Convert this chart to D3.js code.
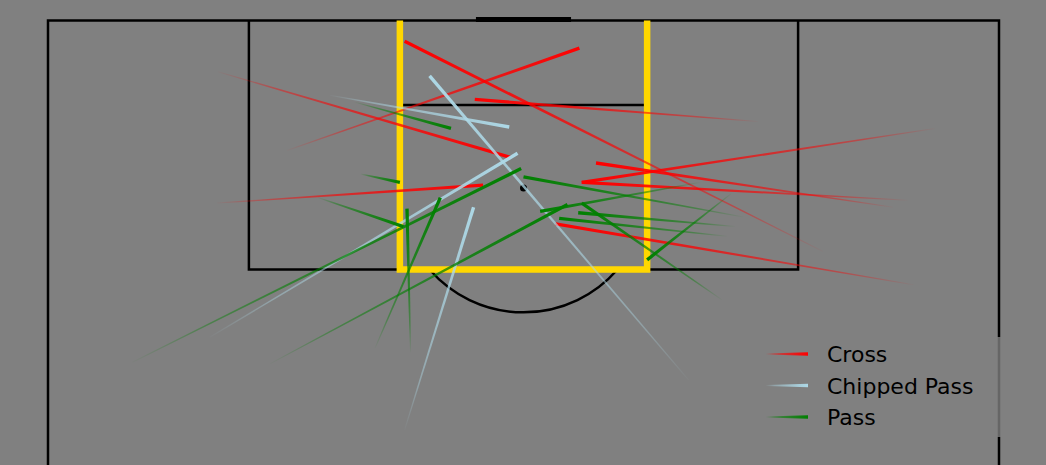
<!DOCTYPE html>
<html>
<head>
<meta charset="utf-8">
<script src="https://cdn.jsdelivr.net/npm/d3@7"></script>
<style>
  html, body { margin: 0; padding: 0; background: #808080; }
  #chart { width: 1046px; height: 465px; }
</style>
</head>
<body>
<div id="chart"></div>
<script>
// pass types, in plotting / legend order
var passTypes = ["Cross", "Chipped Pass", "Pass"];

// each pass: [x, y, endX, endY] in statsbomb-like units (x = length 0..120, y = width 0..80)
var crosses = [
  [116.3, 14.3, 110.1, 38.9],
  [110.6, 20.1, 118.0, 44.7],
  [103.3, 65.2, 118.5, 30.0],
  [112.7, 59.7, 114.3, 35.9],
  [112.2, 74.6, 108.3, 44.9],
  [107.0, 72.3, 108.3, 44.9],
  [106.5, 71.1, 109.7, 46.1],
  [100.9, 72.8, 105.3, 42.7],
  [106.8, 14.2, 108.1, 36.6]
];

var chippedPasses = [
  [114.6, 23.7, 112.3, 38.8],
  [94.0, 53.9, 116.0, 32.1],
  [97.1, 13.6, 110.4, 39.5],
  [90.4, 30.0, 106.5, 35.8]
];

var passes = [
  [114.1, 25.8, 112.2, 33.9],
  [108.9, 26.3, 108.3, 29.6],
  [107.2, 22.7, 105.1, 29.9],
  [95.3, 7.1, 109.3, 39.8],
  [96.0, 30.5, 106.4, 30.2],
  [96.3, 27.5, 107.2, 33.0],
  [95.2, 18.7, 106.7, 43.7],
  [105.8, 58.5, 108.7, 40.0],
  [99.8, 56.7, 106.8, 44.9],
  [107.5, 57.5, 102.7, 50.4],
  [105.1, 57.8, 106.1, 44.6],
  [104.4, 57.1, 105.7, 43.0],
  [108.3, 54.9, 106.2, 41.4]
];

var typeColors = ["#ff0000", "#add8e6", "#008000"];

var width = 1046, height = 465;

var svg = d3.select("#chart").append("svg")
    .attr("width", width)
    .attr("height", height);

// pitch scales: width across the screen, length down from the goal line
var sx = d3.scaleLinear().domain([0, 80]).range([48, 999]);
var sy = d3.scaleLinear().domain([120, 102]).range([20.5, 269.5]);

var defs = svg.append("defs");

// pitch markings
var pitch = svg.append("g")
    .attr("fill", "none")
    .attr("stroke", "#000")
    .attr("stroke-width", 2.5);

// touchlines + goal line
pitch.append("path")
    .attr("d", d3.line()([[sx(0), height + 5], [sx(0), sy(120)], [sx(80), sy(120)], [sx(80), height + 5]]));

// penalty area
pitch.append("path")
    .attr("d", d3.line()([[sx(16.9), sy(120)], [sx(16.9), sy(102)], [sx(63.1), sy(102)], [sx(63.1), sy(120)]]));

// six yard box
pitch.append("path")
    .attr("d", d3.line()([[sx(29.6), sy(120)], [sx(29.6), sy(113.9)], [sx(50.4), sy(113.9)], [sx(50.4), sy(120)]]));

// arc outside the box
var spot = [sx(40), sy(107.9)];
var r = sx(10.47) - sx(0);
var dy = sy(102) - spot[1];
var a = Math.acos(dy / r);
pitch.append("path")
    .attr("transform", "translate(" + spot[0] + "," + spot[1] + ")")
    .attr("d", d3.arc()({innerRadius: r, outerRadius: r, startAngle: Math.PI - a, endAngle: Math.PI + a}));

// goal
pitch.append("line")
    .attr("x1", sx(36)).attr("x2", sx(44))
    .attr("y1", sy(120) - 1).attr("y2", sy(120) - 1)
    .attr("stroke-width", 5);

// penalty spot
svg.append("circle")
    .attr("cx", spot[0]).attr("cy", spot[1])
    .attr("r", 3.5)
    .attr("fill", "#000");

// highlighted zone
svg.append("path")
    .attr("d", d3.line()([[sx(29.6), sy(120)], [sx(29.6), sy(102)], [sx(50.4), sy(102)], [sx(50.4), sy(120)]]))
    .attr("fill", "none")
    .attr("stroke", "#ffd700")
    .attr("stroke-width", 6.5)
    .attr("stroke-linejoin", "miter");

// comet line: tapered polygon filled with a gradient from transparent to solid
var gid = 0;
function comet(g, x0, y0, x1, y1, color, w0, w1) {
  var dx = x1 - x0, dyy = y1 - y0;
  var len = Math.sqrt(dx * dx + dyy * dyy);
  var nx = -dyy / len, ny = dx / len;
  var id = "grad" + (gid++);
  var grad = defs.append("linearGradient")
      .attr("id", id)
      .attr("gradientUnits", "userSpaceOnUse")
      .attr("x1", x0).attr("y1", y0)
      .attr("x2", x1).attr("y2", y1);
  [0, 0.2, 0.4, 0.6, 0.8, 1].forEach(function(t) {
    grad.append("stop")
        .attr("offset", t)
        .attr("stop-color", color)
        .attr("stop-opacity", 0.02 + 0.98 * Math.pow(t, 0.6));
  });
  var pts = [
    [x0 + nx * w0 / 2, y0 + ny * w0 / 2],
    [x1 + nx * w1 / 2, y1 + ny * w1 / 2],
    [x1 - nx * w1 / 2, y1 - ny * w1 / 2],
    [x0 - nx * w0 / 2, y0 - ny * w0 / 2]
  ];
  g.append("path")
      .attr("d", d3.line()(pts) + "Z")
      .attr("fill", "url(#" + id + ")");
}

var series = [crosses, chippedPasses, passes];
var lines = svg.append("g");
series.forEach(function(data, i) {
  data.forEach(function(d) {
    comet(lines, sx(d[1]), sy(d[0]), sx(d[3]), sy(d[2]), typeColors[i], 1.0, 3.4);
  });
});

// legend
var legend = svg.append("g");
legend.append("rect")
    .attr("x", 752).attr("y", 337)
    .attr("width", 252).attr("height", 100)
    .attr("fill", "#808080")
    .attr("fill-opacity", 0.8);

passTypes.forEach(function(t, i) {
  var y = 354 + i * 31.5;
  comet(legend, 766, y, 808, y, typeColors[i], 1.0, 3.4);
  legend.append("text")
      .attr("x", 827)
      .attr("y", y + 8)
      .attr("font-family", "DejaVu Sans")
      .attr("font-size", "22px")
      .attr("fill", "#000")
      .text(t);
});
</script>
</body>
</html>
